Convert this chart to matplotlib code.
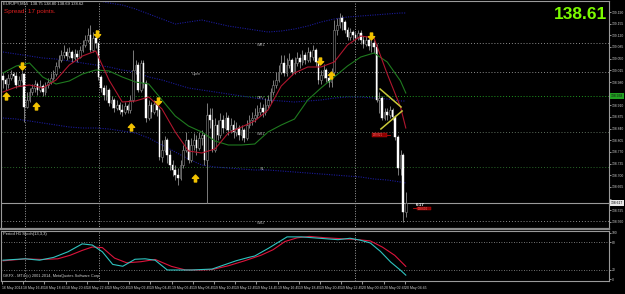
import numpy as np
import matplotlib
matplotlib.use("Agg")
import matplotlib.pyplot as plt
from matplotlib.path import Path
import matplotlib.transforms as mtransforms

plt.rcParams['font.family'] = ['Liberation Sans', 'DejaVu Sans']

# ------------------------------------------------------------------ data
first_open = 138.998
close = [138.986, 138.974, 138.992, 139.004, 138.998, 138.971, 138.986, 139.004, 138.905, 138.926,
         138.950, 138.962, 138.974, 138.956, 138.968, 138.950, 138.971, 138.980, 138.992, 139.004,
         139.028, 139.046, 139.061, 139.070, 139.058, 139.070, 139.052, 139.064, 139.055, 139.076,
         139.091, 139.106, 139.121, 139.076, 139.112, 139.097, 138.995, 138.962, 138.941, 138.956,
         138.917, 138.926, 138.902, 138.911, 138.896, 138.890, 138.908, 138.896, 138.926, 139.016,
         139.031, 138.956, 139.037, 138.977, 138.872, 138.911, 138.890, 138.914, 138.896, 138.755,
         138.776, 138.806, 138.761, 138.731, 138.716, 138.701, 138.692, 138.731, 138.776, 138.806,
         138.746, 138.791, 138.806, 138.782, 138.812, 138.821, 138.746, 138.881, 138.866, 138.776,
         138.851, 138.821, 138.866, 138.842, 138.872, 138.836, 138.851, 138.830, 138.842, 138.821,
         138.836, 138.812, 138.851, 138.866, 138.872, 138.881, 138.890, 138.902, 138.890, 138.911,
         138.926, 138.950, 138.971, 138.986, 139.010, 139.037, 139.007, 139.031, 139.046, 139.010,
         139.037, 139.052, 139.040, 139.061, 139.046, 139.070, 139.055, 139.076, 139.040, 138.986,
         139.001, 139.016, 138.992, 138.980, 139.010, 139.136, 139.151, 139.172, 139.160, 139.136,
         139.115, 139.130, 139.121, 139.112, 139.127, 139.106, 139.094, 139.106, 139.088, 139.097,
         139.085, 138.926, 138.932, 138.872, 138.890, 138.881, 138.896, 138.875, 138.815, 138.722,
         138.761, 138.590, 138.617]
high = [139.010, 138.992, 139.004, 139.016, 139.010, 139.010, 138.998, 139.016, 139.007, 138.950,
        138.962, 138.974, 138.986, 138.980, 138.986, 138.974, 138.980, 138.992, 139.007, 139.016,
        139.040, 139.061, 139.076, 139.091, 139.082, 139.085, 139.076, 139.079, 139.076, 139.088,
        139.106, 139.121, 139.142, 139.151, 139.130, 139.136, 139.097, 139.001, 138.971, 138.971,
        138.962, 138.938, 138.932, 138.926, 138.920, 138.914, 138.920, 138.914, 138.941, 139.076,
        139.046, 139.040, 139.046, 139.046, 138.986, 138.926, 138.920, 138.926, 138.926, 138.902,
        138.806, 138.818, 138.812, 138.776, 138.746, 138.731, 138.722, 138.746, 138.791, 138.830,
        138.806, 138.812, 138.827, 138.821, 138.830, 138.836, 138.827, 138.917, 138.902, 138.902,
        138.872, 138.866, 138.887, 138.881, 138.890, 138.881, 138.872, 138.866, 138.860, 138.851,
        138.851, 138.842, 138.866, 138.881, 138.890, 138.902, 138.911, 138.920, 138.914, 138.932,
        138.941, 138.962, 138.986, 139.010, 139.031, 139.061, 139.061, 139.052, 139.067, 139.052,
        139.055, 139.070, 139.064, 139.076, 139.070, 139.085, 139.076, 139.091, 139.082, 139.052,
        139.016, 139.034, 139.022, 139.004, 139.022, 139.166, 139.172, 139.187, 139.181, 139.166,
        139.145, 139.142, 139.136, 139.130, 139.136, 139.136, 139.118, 139.118, 139.112, 139.112,
        139.106, 139.094, 138.950, 138.938, 138.902, 138.902, 138.908, 138.902, 138.881, 138.821,
        138.776, 138.767, 138.650]
low = [138.962, 138.956, 138.962, 138.986, 138.980, 138.962, 138.968, 138.980, 138.860, 138.902,
       138.920, 138.941, 138.950, 138.941, 138.950, 138.938, 138.941, 138.962, 138.974, 138.986,
       138.998, 139.022, 139.040, 139.052, 139.046, 139.052, 139.040, 139.046, 139.040, 139.052,
       139.070, 139.085, 139.100, 139.070, 139.070, 139.082, 138.986, 138.950, 138.926, 138.926,
       138.908, 138.902, 138.890, 138.896, 138.884, 138.878, 138.884, 138.887, 138.887, 138.920,
       139.004, 138.950, 138.950, 138.962, 138.860, 138.866, 138.872, 138.884, 138.878, 138.746,
       138.740, 138.770, 138.737, 138.716, 138.698, 138.686, 138.671, 138.686, 138.722, 138.770,
       138.737, 138.740, 138.776, 138.761, 138.776, 138.791, 138.731, 138.617, 138.842, 138.770,
       138.770, 138.806, 138.812, 138.827, 138.836, 138.821, 138.827, 138.812, 138.818, 138.806,
       138.806, 138.800, 138.806, 138.842, 138.851, 138.860, 138.872, 138.881, 138.875, 138.881,
       138.902, 138.917, 138.941, 138.962, 138.980, 139.004, 138.998, 138.998, 139.022, 139.001,
       139.004, 139.028, 139.022, 139.031, 139.034, 139.040, 139.040, 139.046, 139.028, 138.974,
       138.974, 138.992, 138.980, 138.965, 138.965, 139.001, 139.121, 139.142, 139.136, 139.127,
       139.106, 139.106, 139.106, 139.100, 139.106, 139.094, 139.082, 139.088, 139.076, 139.070,
       139.067, 138.920, 138.887, 138.866, 138.866, 138.866, 138.872, 138.866, 138.806, 138.701,
       138.701, 138.560, 138.575]

ma_idx = [0, 5, 10, 15, 20, 25, 30, 35, 40, 45, 50, 55, 60, 65, 70, 75, 80, 85, 90, 95,
          100, 105, 110, 115, 120, 125, 130, 135, 140, 145, 150, 152]
ma_fast = [138.950, 138.965, 138.971, 138.962, 138.986, 139.031, 139.058, 139.073, 138.986, 138.920,
           138.923, 138.935, 138.899, 138.830, 138.773, 138.767, 138.779, 138.827, 138.845, 138.863,
           138.896, 138.968, 139.007, 139.025, 139.025, 139.040, 139.091, 139.118, 139.112, 139.004,
           138.905, 138.842]
ma_slow = [139.007, 139.028, 139.037, 138.995, 138.974, 138.983, 139.004, 139.016, 139.013, 138.995,
           138.980, 138.974, 138.926, 138.878, 138.848, 138.830, 138.803, 138.791, 138.791, 138.794,
           138.830, 138.851, 138.869, 138.926, 138.962, 138.995, 139.028, 139.055, 139.067, 139.040,
           138.983, 138.947]
band_mid = [139.070, 139.064, 139.058, 139.052, 139.049, 139.043, 139.037, 139.031, 139.025, 139.016,
            139.010, 138.995, 138.986, 138.974, 138.962, 138.956, 138.950, 138.944, 138.938, 138.932,
            138.926, 138.923, 138.920, 138.923, 138.926, 138.932, 138.935, 138.935, 138.932, 138.929,
            138.923, 138.923]
band_low = [138.872, 138.869, 138.863, 138.857, 138.851, 138.845, 138.842, 138.842, 138.839, 138.833,
            138.827, 138.812, 138.791, 138.770, 138.749, 138.731, 138.725, 138.722, 138.719, 138.716,
            138.716, 138.713, 138.710, 138.707, 138.704, 138.701, 138.698, 138.695, 138.689, 138.686,
            138.680, 138.677]
band_up_idx = [35, 40, 45, 50, 55, 60, 65, 70, 75, 80, 85, 90, 95, 100, 105, 110, 115, 120,
               125, 130, 135, 140, 145, 150, 152]
band_up = [139.226, 139.217, 139.211, 139.199, 139.184, 139.169, 139.154, 139.160, 139.166, 139.157,
           139.148, 139.142, 139.136, 139.130, 139.133, 139.139, 139.148, 139.160, 139.169, 139.175,
           139.178, 139.181, 139.184, 139.187, 139.187]

pivot_names = ["WR1", "Open", "DPV", "WS1", "S1", "WS2"]
pivot_prices = [139.097, 139.010, 138.938, 138.830, 138.725, 138.563]
pivot_label_idx = [95.8, 71.2, 95.8, 95.8, 97.0, 95.8]
bid = 138.617

arrow_idx = [1.1, 7.2, 12.5, 35.5, 48.3, 58.5, 72.5, 119.6, 123.8, 138.9]
arrow_price = [138.938, 139.028, 138.908, 139.124, 138.845, 138.923, 138.692, 139.043, 139.001, 139.118]
arrow_dir = ["up", "down", "up", "down", "up", "down", "up", "down", "up", "down"]

tri_a_idx = [142.3, 150.2]
tri_a_price = [138.959, 138.905]
tri_b_idx = [142.6, 150.6]
tri_b_price = [138.839, 138.893]

separators = [8.3, 36.2, 132.8]

stoch_k_idx = [0, 8.4, 13.8, 19.1, 24.5, 29.9, 33.7, 37.5, 41.4, 45.2, 49.8, 53.6, 57.4, 62.0,
               66.6, 71.2, 78.9, 83.5, 88.1, 92.7, 95.0, 100.3, 104.9, 107.2, 112.6, 117.2,
               121.8, 126.4, 131.0, 134.8, 138.6, 142.4, 146.3, 150.1, 152]
stoch_k = [41, 44, 41, 47, 59, 76, 73.5, 59, 32, 28, 43, 44, 41, 20, 20, 20, 22, 31, 40, 47,
           50, 67, 83, 91, 91, 89, 87, 85, 88, 84, 78, 60, 37, 19, 9]
stoch_d_idx = [0, 8.4, 14.6, 20.7, 25.3, 29.9, 33.7, 37.5, 42.1, 46.7, 52.1, 57.4, 63.6, 68.9,
               74.3, 78.9, 85.0, 91.1, 97.3, 101.9, 106.4, 111.0, 115.6, 121.8, 127.9, 134.0,
               138.6, 143.2, 147.8, 152]
stoch_d = [39.6, 43.8, 42.6, 44, 51.5, 62, 69.3, 68, 45.5, 35.4, 37.8, 42.6, 27.7, 20, 20, 21,
           29, 39.6, 51.5, 63.4, 81, 89, 92, 89, 87, 85, 82.4, 69, 51.5, 27.7]

time_labels = ["16 May 2014", "18 May 16:45", "18 May 18:45", "18 May 20:45", "18 May 22:45",
               "19 May 00:45", "19 May 02:45", "19 May 04:45", "19 May 06:45", "19 May 08:45",
               "19 May 10:45", "19 May 12:45", "19 May 14:45", "19 May 16:45", "19 May 18:45",
               "19 May 20:45", "19 May 22:45", "20 May 00:45", "20 May 02:45", "20 May 04:45"]
bars_per_label = 8

price_ticks = [139.190, 139.155, 139.120, 139.085, 139.050, 139.015, 138.980, 138.945, 138.910,
               138.875, 138.840, 138.805, 138.770, 138.735, 138.700, 138.665, 138.630, 138.595,
               138.560]

# ------------------------------------------------------------------ layout
W, H = 625, 294
PX_BAR, X0 = 2.65, 3.0
fig = plt.figure(figsize=(W / 100, H / 100), dpi=100, facecolor='black')

def px2idx(px):
    return (px - X0) / PX_BAR

def py2price(py):
    return 139.226 - 0.003 * py

ax = fig.add_axes([1 / W, 1 - 229 / H, 608 / W, 228 / H], facecolor='black')
axs = fig.add_axes([1 / W, 1 - 281 / H, 608 / W, 50 / H], facecolor='black')

xl = (px2idx(1), px2idx(609))
for a in (ax, axs):
    a.set_xlim(*xl)
    for s in a.spines.values():
        s.set_color('#9a9a9a')
        s.set_linewidth(0.8)
ax.set_ylim(py2price(229), py2price(1))
ax.spines['bottom'].set_linewidth(1.6)
ax.spines['bottom'].set_color('#8a8a8a')

grey_txt = '#cfcfcf'
# right price axis (labels hidden where a highlighted box sits)
highlights = [pivot_prices[2], bid]
ax.yaxis.tick_right()
ax.set_yticks(price_ticks)
ax.set_yticklabels(["" if min(abs(t - h) for h in highlights) < 0.014 else f"{t:.3f}"
                    for t in price_ticks])
ax.tick_params(axis='y', labelsize=2.4, colors=grey_txt, length=1.6, width=0.5, pad=0.6)
ax.tick_params(axis='x', bottom=False, labelbottom=False)

# separators
for s in separators:
    ax.axvline(s, color='#a0a0a0', lw=0.7, ls=(0, (1, 1.6)), zorder=1)
    axs.axvline(s, color='#a0a0a0', lw=0.7, ls=(0, (1, 1.6)), zorder=1)

# pivot lines
pivot_style = {"WR1": '#8c8c8c', "Open": '#8c8c8c', "DPV": '#1f9a1f',
               "WS1": '#5d6d5d', "S1": '#2a6a2a', "WS2": '#8c8c8c'}
for name, p, li in zip(pivot_names, pivot_prices, pivot_label_idx):
    ax.axhline(p, color=pivot_style[name], lw=0.7, ls=(0, (1, 2)), zorder=1)
    ax.text(li, p - 0.001, name, fontsize=2.8, color='#a8a8a8', va='top', ha='left', zorder=2)

ax.axhline(bid, color='#9a9a9a', lw=0.8, zorder=1)

# bands
ax.plot(ma_idx, band_mid, color='#1b1b9a', lw=0.8, ls=(0, (1, 1.2)), zorder=2)
ax.plot(ma_idx, band_low, color='#1b1b9a', lw=0.8, ls=(0, (1, 1.2)), zorder=2)
ax.plot(band_up_idx, band_up, color='#1b1b9a', lw=0.8, ls=(0, (1, 1.2)), zorder=2)

# candles
c = np.array(close)
hgh = np.array(high)
lw_ = np.array(low)
idx = np.arange(len(c))
opn = np.r_[first_open, c[:-1]]
ax.vlines(idx, lw_, hgh, color='#7c7c7c', lw=0.7, zorder=3)
bear = c < opn
bull = ~bear
ax.bar(idx[bear], (opn - c)[bear], bottom=c[bear], width=0.62, color='white',
       edgecolor='white', lw=0.3, zorder=4)
ax.bar(idx[bull], (c - opn)[bull], bottom=opn[bull], width=0.62, color='black',
       edgecolor='#8a8a8a', lw=0.4, zorder=4)

# moving averages
ax.plot(ma_idx, ma_slow, color='#1f7a1f', lw=0.8, zorder=5)
ax.plot(ma_idx, ma_fast, color='#b0162e', lw=0.8, zorder=5)

# signal arrows
up_path = Path([(-0.16, -0.5), (0.16, -0.5), (0.16, 0.02), (0.45, 0.02), (0, 0.5),
                (-0.45, 0.02), (-0.16, 0.02), (-0.16, -0.5)], closed=True)
down_path = Path([(x, -y) for x, y in up_path.vertices], closed=True)
for xi, pi, d in zip(arrow_idx, arrow_price, arrow_dir):
    ax.plot([xi], [pi], marker=up_path if d == "up" else down_path, markersize=5,
            color='#f2c200', markeredgecolor='#f2c200', lw=0, zorder=7)

# triangle
ax.plot(tri_a_idx, tri_a_price, color='#c9c93a', lw=1.1, zorder=6)
ax.plot(tri_b_idx, tri_b_price, color='#c9c93a', lw=1.1, zorder=6)

# price boxes
ax.add_patch(plt.Rectangle((px2idx(372), py2price(137)), px2idx(387) - px2idx(372),
                           py2price(133) - py2price(137), facecolor='#8b0000',
                           edgecolor='#c01010', lw=0.3, zorder=6))
ax.text(px2idx(373), py2price(135.2), "138.821", fontsize=2.0, color='#ff7070',
        va='center', ha='left', zorder=7)
ax.plot([px2idx(387), px2idx(390)], [py2price(135)] * 2, color='#c01010', lw=0.6, zorder=6)
ax.add_patch(plt.Rectangle((px2idx(417), py2price(210)), px2idx(431) - px2idx(417),
                           py2price(207) - py2price(210), facecolor='#8b0000',
                           edgecolor='#c01010', lw=0.3, zorder=6))
ax.text(px2idx(418), py2price(208.6), "138.600", fontsize=2.0, color='#ff7070',
        va='center', ha='left', zorder=7)
ax.plot([px2idx(413), px2idx(417)], [py2price(208.5)] * 2, color='#c01010', lw=0.6, zorder=6)
ax.text(px2idx(416), py2price(205.5), "6:17", fontsize=3.2, color='white',
        fontweight='bold', va='baseline', ha='left', zorder=7)

# highlighted axis labels
tr = mtransforms.blended_transform_factory(ax.transAxes, ax.transData)
ax.text(1.003, pivot_prices[2], f"{pivot_prices[2]:.3f}", transform=tr, fontsize=2.4,
        color='#101010', va='center', ha='left', clip_on=False, zorder=10,
        bbox=dict(facecolor='#22a022', edgecolor='none', pad=0.5))
ax.text(1.003, bid, f"{bid:.3f}", transform=tr, fontsize=2.4, color='black',
        va='center', ha='left', clip_on=False, zorder=10,
        bbox=dict(facecolor='#e8e8e8', edgecolor='none', pad=0.5))

# stochastic
axs.set_ylim(-3.6, 103.6)
axs.axhline(80, color='#9a9a9a', lw=0.6, ls=(0, (1, 2)))
axs.axhline(20, color='#9a9a9a', lw=0.6, ls=(0, (1, 2)))
axs.plot(stoch_d_idx, stoch_d, color='#dc143c', lw=0.8, zorder=3)
axs.plot(stoch_k_idx, stoch_k, color='#2ec4c0', lw=0.8, zorder=4)
axs.yaxis.tick_right()
axs.set_yticks([0, 20, 80, 100])
axs.set_yticklabels(["0", "20", "80", "100"])
axs.tick_params(axis='y', labelsize=2.4, colors=grey_txt, length=1.6, width=0.5, pad=0.6)
tick_pos = np.arange(len(time_labels)) * bars_per_label - 0.4
axs.set_xticks(tick_pos)
axs.set_xticklabels(time_labels)
axs.tick_params(axis='x', labelsize=2.5, colors=grey_txt, length=2, width=0.5, pad=1.5)
for lbl in axs.get_xticklabels():
    lbl.set_ha('left')

axs.text(0.004, 0.97, "Period H1 Stoch(13,3,3)", transform=axs.transAxes, fontsize=3.0,
         color='#e0e0e0', va='top', ha='left')
axs.text(0.004, 0.05, "GKFX - MT4 (c) 2001-2014, MetaQuotes Software Corp.",
         transform=axs.transAxes, fontsize=2.8, color='#d0d0d0', va='bottom', ha='left')

# header texts
fig.text(3 / W, 1 - 2 / H, "EURJPY,M15  138.75 138.80 138.69 138.62", fontsize=3.0,
         color='#e0e0e0', va='top', ha='left')
fig.text(4 / W, 1 - 12.8 / H, "Spread: 17 points.", fontsize=4.6, color='#e02020',
         va='baseline', ha='left')
fig.text(607 / W, 1 - 19 / H, "138.61", fontsize=12.5, fontweight='bold',
         color='#7cfc00', va='baseline', ha='right')

fig.savefig("out.png", dpi=100, facecolor='black')
